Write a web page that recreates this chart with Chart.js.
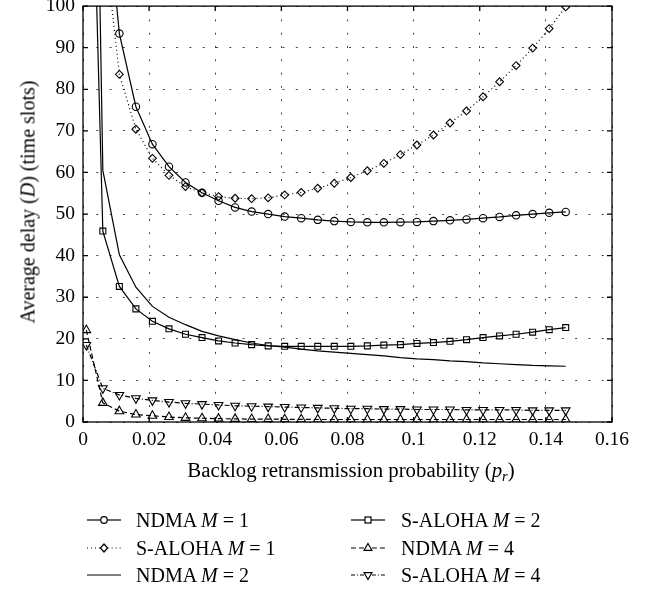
<!DOCTYPE html>
<html>
<head>
<meta charset="utf-8">
<script src="https://cdn.jsdelivr.net/npm/chart.js@4"></script>
<style>
  html, body { margin: 0; padding: 0; background: #fff; }
  #wrap { position: relative; width: 652px; height: 590px; overflow: hidden; font-family: 'Liberation Serif', serif; color: #000; }
  #c { position: absolute; left: 0; top: 0; }
  .ytitle { position: absolute; left: 28px; top: 202px; transform: translate(-50%, -50%) rotate(-90deg); white-space: nowrap; font-size: 20px; }
  .xtitle { position: absolute; left: 351px; top: 470px; transform: translate(-50%, -50%); white-space: nowrap; font-size: 20.8px; }
  .lg { position: absolute; height: 24px; display: flex; align-items: center; white-space: nowrap; font-size: 20px; }
  .lg svg { flex: none; }
  sub { font-size: 70%; vertical-align: -4px; line-height: 0; }
</style>
</head>
<body>
<div id="wrap">
  <canvas id="c" width="652" height="590"></canvas>
  <div class="ytitle">Average delay (<i>D</i>) (time slots)</div>
  <div class="xtitle">Backlog retransmission probability (<i>p<sub>r</sub></i>)</div>
  <div id="legend"></div>
</div>
<script>
// backlog retransmission probability p_r
const pr = [0.001, 0.006, 0.011, 0.016, 0.021, 0.026, 0.031, 0.036, 0.041, 0.046,
            0.051, 0.056, 0.061, 0.066, 0.071, 0.076, 0.081, 0.086, 0.091, 0.096,
            0.101, 0.106, 0.111, 0.116, 0.121, 0.126, 0.131, 0.136, 0.141, 0.146];

// average delay D (time slots) (first points are off the top)
const ndmaM1 = [760, 134, 93.4, 75.8, 66.8, 61.4, 57.6, 55.1, 53.2, 51.6,
                50.6, 50.0, 49.4, 49.0, 48.6, 48.3, 48.1, 48.0, 48.0, 48.05,
                48.1, 48.3, 48.5, 48.7, 49.0, 49.3, 49.7, 50.0, 50.3, 50.5];
const salohaM1 = [600, 119, 83.6, 70.4, 63.4, 59.3, 56.6, 55.1, 54.2, 53.8,
                  53.7, 53.9, 54.6, 55.2, 56.2, 57.4, 58.8, 60.4, 62.2, 64.3,
                  66.6, 69.0, 71.9, 74.8, 78.2, 81.8, 85.7, 89.9, 94.6, 99.8];
const ndmaM2 = [290, 60.5, 40.2, 32.4, 27.8, 25.2, 23.4, 21.8, 20.7, 19.8,
                19.0, 18.4, 18.0, 17.5, 17.1, 16.8, 16.5, 16.2, 15.9, 15.5,
                15.2, 15.0, 14.7, 14.5, 14.2, 14.0, 13.8, 13.6, 13.5, 13.4];
const salohaM2 = [192, 45.9, 32.6, 27.2, 24.2, 22.4, 21.1, 20.3, 19.5, 19.0,
                  18.6, 18.3, 18.2, 18.2, 18.2, 18.2, 18.2, 18.3, 18.5, 18.6,
                  18.9, 19.1, 19.4, 19.8, 20.3, 20.7, 21.1, 21.6, 22.2, 22.7];
const ndmaM4 = [22.1, 4.6, 2.6, 1.8, 1.5, 1.2, 1.0, 0.9, 0.8, 0.75,
                0.7, 0.7, 0.65, 0.65, 0.6, 0.6, 0.6, 0.6, 0.6, 0.6,
                0.6, 0.6, 0.6, 0.6, 0.6, 0.6, 0.6, 0.6, 0.6, 0.6];
const salohaM4 = [18.5, 8.1, 6.5, 5.7, 5.2, 4.8, 4.5, 4.3, 4.1, 3.9,
                  3.8, 3.7, 3.6, 3.5, 3.4, 3.3, 3.2, 3.2, 3.1, 3.1,
                  3.0, 3.0, 3.0, 2.9, 2.9, 2.9, 2.9, 2.8, 2.8, 2.8];

const xTicks = [0, 0.02, 0.04, 0.06, 0.08, 0.1, 0.12, 0.14, 0.16];
const yTicks = [0, 10, 20, 30, 40, 50, 60, 70, 80, 90, 100];

const schemes = ['NDMA', 'S-ALOHA', 'NDMA', 'S-ALOHA', 'NDMA', 'S-ALOHA'];
const mVals = [1, 1, 2, 2, 4, 4];

const pts = arr => arr.map((v, i) => ({ x: pr[i], y: v }));

function ds(data, style, dash) {
  return {
    data: pts(data),
    borderColor: '#000',
    borderWidth: 1.2,
    borderDash: dash,
    tension: 0,
    pointStyle: style.shape || 'circle',
    pointRotation: style.rot || 0,
    pointRadius: style.r || 0,
    pointBorderWidth: 1.1,
    pointBorderColor: '#000',
    pointBackgroundColor: 'rgba(0,0,0,0)'
  };
}

const frame = {
  id: 'frame',
  afterDatasetsDraw(chart) {
    const { ctx, chartArea: a, scales: { x, y } } = chart;
    ctx.save();
    ctx.strokeStyle = '#000';
    ctx.lineWidth = 1.3;
    ctx.strokeRect(a.left, a.top, a.right - a.left, a.bottom - a.top);
    ctx.beginPath();
    xTicks.forEach(v => {
      const p = x.getPixelForValue(v);
      ctx.moveTo(p, a.bottom); ctx.lineTo(p, a.bottom - 5);
      ctx.moveTo(p, a.top); ctx.lineTo(p, a.top + 5);
    });
    yTicks.forEach(v => {
      const p = y.getPixelForValue(v);
      ctx.moveTo(a.left, p); ctx.lineTo(a.left + 5, p);
      ctx.moveTo(a.right, p); ctx.lineTo(a.right - 5, p);
    });
    ctx.stroke();
    ctx.restore();
  }
};

const tickFont = { family: "'Liberation Serif', serif", size: 19.5 };

new Chart(document.getElementById('c'), {
  type: 'line',
  data: {
    datasets: [
      ds(ndmaM1, { shape: 'circle', r: 3.7 }, []),
      ds(salohaM1, { shape: 'rectRot', r: 3.9 }, [1, 3]),
      ds(ndmaM2, { r: 0 }, []),
      ds(salohaM2, { shape: 'rect', r: 4.2 }, []),
      ds(ndmaM4, { shape: 'triangle', r: 5 }, [5, 3]),
      ds(salohaM4, { shape: 'triangle', rot: 180, r: 5 }, [5, 2, 1, 2])
    ]
  },
  options: {
    responsive: false,
    animation: false,
    layout: { padding: { top: 5, right: 40, left: 0, bottom: 0 } },
    plugins: { legend: { display: false }, tooltip: { enabled: false } },
    scales: {
      x: {
        type: 'linear', min: 0, max: 0.16,
        afterBuildTicks: s => { s.ticks = xTicks.map(v => ({ value: v })); },
        afterFit: s => { s.height = 168; s.paddingLeft = 0; s.paddingRight = 0; },
        ticks: { color: '#000', font: tickFont, padding: 6, maxRotation: 0, autoSkip: false,
                 callback: v => String(+v.toFixed(2)) },
        grid: { color: '#444', lineWidth: 1, drawTicks: false },
        border: { display: false, dash: [2, 11.3] }
      },
      y: {
        min: 0, max: 100,
        afterBuildTicks: s => { s.ticks = yTicks.map(v => ({ value: v })); },
        afterFit: s => { s.width = 83; s.paddingTop = 0; s.paddingBottom = 0; },
        ticks: { color: '#000', font: tickFont, padding: 8, autoSkip: false },
        grid: { color: '#444', lineWidth: 1, drawTicks: false },
        border: { display: false, dash: [2, 11.3] }
      }
    }
  },
  plugins: [frame]
});

// legend: column-major, three rows per column
const legendSpecs = [
  { shape: 'circle', dash: '' },
  { shape: 'diamond', dash: '1 3' },
  { shape: 'none', dash: '' },
  { shape: 'square', dash: '' },
  { shape: 'up', dash: '5 3' },
  { shape: 'down', dash: '4 2 1 2' }
];
const colX = [87, 351];
const textGap = [15, 16];
const rowY = [520, 548, 575];

function sampleSvg(spec) {
  const w = 34, h = 24, cx = 17, cy = 12;
  let marker = '', gap = 0;
  if (spec.shape === 'circle') { marker = `<circle cx="${cx}" cy="${cy}" r="3.3"/>`; gap = 3.3; }
  if (spec.shape === 'diamond') { marker = `<polygon points="${cx},${cy - 4} ${cx + 3.6},${cy} ${cx},${cy + 4} ${cx - 3.6},${cy}"/>`; gap = 3.6; }
  if (spec.shape === 'square') { marker = `<rect x="${cx - 3}" y="${cy - 3}" width="6" height="6"/>`; gap = 3; }
  if (spec.shape === 'up') { marker = `<polygon points="${cx},${cy - 4.5} ${cx + 3.9},${cy + 2.3} ${cx - 3.9},${cy + 2.3}"/>`; gap = 3.9; }
  if (spec.shape === 'down') { marker = `<polygon points="${cx},${cy + 4.5} ${cx + 3.9},${cy - 2.3} ${cx - 3.9},${cy - 2.3}"/>`; gap = 3.9; }
  const dash = spec.dash ? `stroke-dasharray="${spec.dash}"` : '';
  const line = gap
    ? `<line x1="0" y1="${cy}" x2="${cx - gap}" y2="${cy}" ${dash}/><line x1="${cx + gap}" y1="${cy}" x2="${w}" y2="${cy}" ${dash}/>`
    : `<line x1="0" y1="${cy}" x2="${w}" y2="${cy}" ${dash}/>`;
  return `<svg width="${w}" height="${h}" viewBox="0 0 ${w} ${h}"><g stroke="#000" stroke-width="1.2" fill="none">${line}${marker}</g></svg>`;
}

const legendEl = document.getElementById('legend');
legendSpecs.forEach((spec, i) => {
  const col = Math.floor(i / 3), row = i % 3;
  const div = document.createElement('div');
  div.className = 'lg';
  div.style.left = colX[col] + 'px';
  div.style.top = (rowY[row] - 12) + 'px';
  div.innerHTML = sampleSvg(spec) +
    `<span style="margin-left:${textGap[col]}px">${schemes[i]} <i>M</i> = ${mVals[i]}</span>`;
  legendEl.appendChild(div);
});
</script>
</body>
</html>
